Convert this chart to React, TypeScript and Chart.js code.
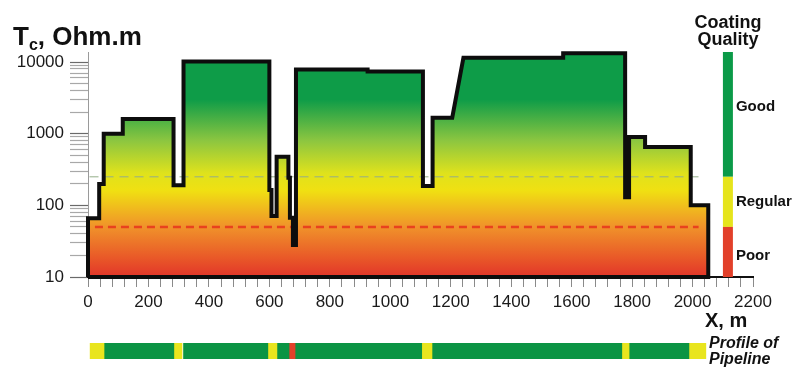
import React, { useEffect, useRef } from 'react';
import { Chart, registerables } from 'chart.js';

Chart.register(...registerables);

// ---------- data ----------
const curveX = [0, 0, 37, 37, 52, 52, 115, 115, 283, 283, 316, 316, 600, 600, 607, 607, 624, 624, 663, 663, 668, 668, 678, 678, 688, 688, 925, 925, 1108, 1108, 1140, 1140, 1205, 1242, 1572, 1572, 1777, 1777, 1790, 1790, 1843, 1843, 1994, 1994, 2052, 2052];
const curveY = [10, 66, 66, 198, 198, 1000, 1000, 1600, 1600, 190, 190, 10200, 10200, 164, 164, 71, 71, 477, 477, 243, 243, 67, 67, 28, 28, 7850, 7850, 7400, 7400, 186, 186, 1670, 1670, 11500, 11500, 13300, 13300, 130, 130, 900, 900, 650, 650, 100, 100, 10];

const xMin = 0;
const xMax = 2200;
const yMin = 10;
const yMax = 13800;
const xTickStep = 40;
const xLabelStep = 200;
const yDecades = [10, 100, 1000, 10000];
const yMultipliers = [1, 2, 3, 4, 5, 6, 7, 8, 9];

const poorLimit = 50;
const regularLimit = 250;
const poorLineX = [23, 2020];
const regularLineX = [5, 2020];

const qualityBarX = 2117;
const qualityNames = ['Poor', 'Regular', 'Good'];
const qualityLow = [10, 50, 250];
const qualityHigh = [50, 250, 13800];
const qualityLabelY = [20, 111, 2350];
const qualityColors = ['#e2402a', '#e6e41c', '#0b9a48'];

const profileStart = [7, 53, 284, 316, 595, 625, 665, 685, 1104, 1138, 1766, 1790, 1988];
const profileEnd = [53, 284, 311, 595, 625, 665, 685, 1104, 1138, 1766, 1790, 1988, 2044];
const profileQuality = ['Regular', 'Good', 'Regular', 'Good', 'Regular', 'Good', 'Poor', 'Good', 'Regular', 'Good', 'Regular', 'Good', 'Regular'];
const profileColors: Record<string, string> = { Poor: '#e2412b', Regular: '#e9e51e', Good: '#0b9444' };

const gradientValues = [10, 19, 50, 160, 280, 800, 3000];
const gradientColors = ['#e2352a', '#e95a28', '#f0922a', '#f0e012', '#dfe21c', '#8cc640', '#0e9c48'];

// ---------- helpers ----------
const FONT = 'Arial, "Liberation Sans", Helvetica, sans-serif';
const xTickValues: number[] = [];
for (let v = xMin; v <= xMax; v += xTickStep) xTickValues.push(v);
const yTickValues: number[] = [];
yDecades.forEach((d) => yMultipliers.forEach((m) => { if (d * m <= yMax) yTickValues.push(d * m); }));

const curvePoints = curveX.map((x, i) => ({ x, y: curveY[i] }));

const textPlugin = {
  id: 'texts',
  afterDraw(chart: any) {
    const ctx = chart.ctx;
    const xs = chart.scales.x;
    const ys = chart.scales.y;
    ctx.save();
    ctx.fillStyle = '#111';
    ctx.textAlign = 'left';
    ctx.textBaseline = 'alphabetic';
    // Y title
    ctx.font = `bold 26px ${FONT}`;
    ctx.fillText('T', 13, 45);
    let w = ctx.measureText('T').width;
    ctx.font = `bold 16px ${FONT}`;
    ctx.fillText('c', 13 + w, 50);
    const w2 = ctx.measureText('c').width;
    ctx.font = `bold 26px ${FONT}`;
    ctx.fillText(', Ohm.m', 13 + w + w2, 45);
    // Coating quality title
    const qx = xs.getPixelForValue(qualityBarX);
    ctx.font = `bold 18px ${FONT}`;
    ctx.textAlign = 'center';
    ctx.fillText('Coating', qx, 28);
    ctx.fillText('Quality', qx, 45);
    // Quality labels
    ctx.font = `bold 15px ${FONT}`;
    ctx.textAlign = 'left';
    ctx.textBaseline = 'middle';
    qualityNames.forEach((n, i) => ctx.fillText(n, qx + 8, ys.getPixelForValue(qualityLabelY[i])));
    // X title
    ctx.textBaseline = 'alphabetic';
    ctx.font = `bold 20px ${FONT}`;
    ctx.fillText('X, m', 705, 327);
    // Profile text
    ctx.font = `italic bold 16px ${FONT}`;
    ctx.fillText('Profile of', 709, 348);
    ctx.fillText('Pipeline', 709, 364);
    ctx.restore();
  },
};

export default function App() {
  const mainRef = useRef<HTMLCanvasElement | null>(null);
  const profRef = useRef<HTMLCanvasElement | null>(null);

  useEffect(() => {
    const fillColor = (c: any) => {
      const chart = c.chart;
      if (!chart.chartArea) return 'rgba(0,0,0,0)';
      const y = chart.scales.y;
      const bottom = y.getPixelForValue(yMin);
      const top = y.getPixelForValue(yMax);
      const g = chart.ctx.createLinearGradient(0, bottom, 0, top);
      gradientValues.forEach((v, i) => {
        const f = (bottom - y.getPixelForValue(v)) / (bottom - top);
        g.addColorStop(Math.min(1, Math.max(0, f)), gradientColors[i]);
      });
      g.addColorStop(1, gradientColors[gradientColors.length - 1]);
      return g;
    };

    const datasets: any[] = [
      {
        data: curvePoints,
        borderWidth: 0,
        borderColor: 'rgba(0,0,0,0)',
        backgroundColor: fillColor,
        fill: 'start',
        pointRadius: 0,
        order: 5,
      },
      {
        data: regularLineX.map((x) => ({ x, y: regularLimit })),
        borderColor: '#93ae88',
        borderWidth: 1,
        borderDash: [9, 6],
        pointRadius: 0,
        fill: false,
        order: 4,
      },
      {
        data: poorLineX.map((x) => ({ x, y: poorLimit })),
        borderColor: '#e8421e',
        borderWidth: 2.5,
        borderDash: [8, 5],
        pointRadius: 0,
        fill: false,
        order: 4,
      },
      ...qualityNames.map((n, i) => ({
        data: [{ x: qualityBarX, y: qualityLow[i] }, { x: qualityBarX, y: qualityHigh[i] }],
        borderColor: qualityColors[i],
        borderWidth: 10,
        borderCapStyle: 'butt',
        pointRadius: 0,
        fill: false,
        order: 3,
        clip: false,
      })),
      {
        data: [...curvePoints, curvePoints[0]],
        borderColor: '#0d0d0d',
        borderWidth: 4,
        borderJoinStyle: 'miter',
        pointRadius: 0,
        fill: false,
        order: 1,
        clip: false,
      },
    ];

    const main = new Chart(mainRef.current as HTMLCanvasElement, {
      type: 'line',
      data: { datasets },
      options: {
        animation: false,
        responsive: false,
        events: [],
        layout: { padding: { left: 0, right: 46, top: 52, bottom: 52 } },
        elements: { line: { tension: 0 } },
        plugins: { legend: { display: false }, tooltip: { enabled: false } },
        scales: {
          x: {
            type: 'linear',
            min: xMin,
            max: xMax,
            afterBuildTicks: (s: any) => { s.ticks = xTickValues.map((v) => ({ value: v })); },
            afterFit: (s: any) => { s.height = 40; },
            grid: { drawOnChartArea: false, drawTicks: true, tickLength: 10, tickColor: '#8a8a8a', tickWidth: 1 },
            border: { display: true, color: '#111', width: 2 },
            ticks: {
              autoSkip: false,
              maxRotation: 0,
              minRotation: 0,
              padding: 5,
              color: '#1a1a1a',
              font: { family: FONT, size: 17 },
              callback: (v: any) => (Number(v) % xLabelStep === 0 ? String(v) : ''),
            },
          },
          y: {
            type: 'logarithmic',
            min: yMin,
            max: yMax,
            afterBuildTicks: (s: any) => { s.ticks = yTickValues.map((v) => ({ value: v, major: yDecades.includes(v) })); },
            afterFit: (s: any) => { s.width = 88; },
            grid: {
              drawOnChartArea: false,
              drawTicks: true,
              tickLength: 18,
              tickWidth: 1.2,
              tickColor: (c: any) => (c.tick && yDecades.includes(c.tick.value) ? '#6a6a6a' : '#a8a8a8'),
            },
            border: { display: true, color: '#9a9a9a', width: 1 },
            ticks: {
              autoSkip: false,
              padding: 6,
              color: '#1a1a1a',
              font: { family: FONT, size: 17 },
              callback: (v: any) => (yDecades.includes(Number(v)) ? String(v) : ''),
            },
          },
        },
      } as any,
      plugins: [textPlugin],
    });

    const prof = new Chart(profRef.current as HTMLCanvasElement, {
      type: 'bar',
      data: {
        labels: ['Pipeline'],
        datasets: profileStart.map((s, i) => ({
          data: [[s, profileEnd[i]]],
          backgroundColor: profileColors[profileQuality[i]],
          borderWidth: 0,
          grouped: false,
          barPercentage: 1,
          categoryPercentage: 1,
        })) as any,
      },
      options: {
        indexAxis: 'y',
        animation: false,
        responsive: false,
        events: [],
        layout: { padding: { left: 88, right: 46, top: 343, bottom: 10 } },
        plugins: { legend: { display: false }, tooltip: { enabled: false } },
        scales: {
          x: { type: 'linear', min: xMin, max: xMax, display: false },
          y: { display: false },
        },
      } as any,
    });

    return () => {
      main.destroy();
      prof.destroy();
    };
  }, []);

  return (
    <div style={{ position: 'fixed', left: 0, top: 0, width: 799, height: 369, background: '#ffffff' }}>
      <canvas ref={mainRef} width={799} height={369} style={{ position: 'absolute', left: 0, top: 0 }} />
      <canvas ref={profRef} width={799} height={369} style={{ position: 'absolute', left: 0, top: 0, pointerEvents: 'none' }} />
    </div>
  );
}
